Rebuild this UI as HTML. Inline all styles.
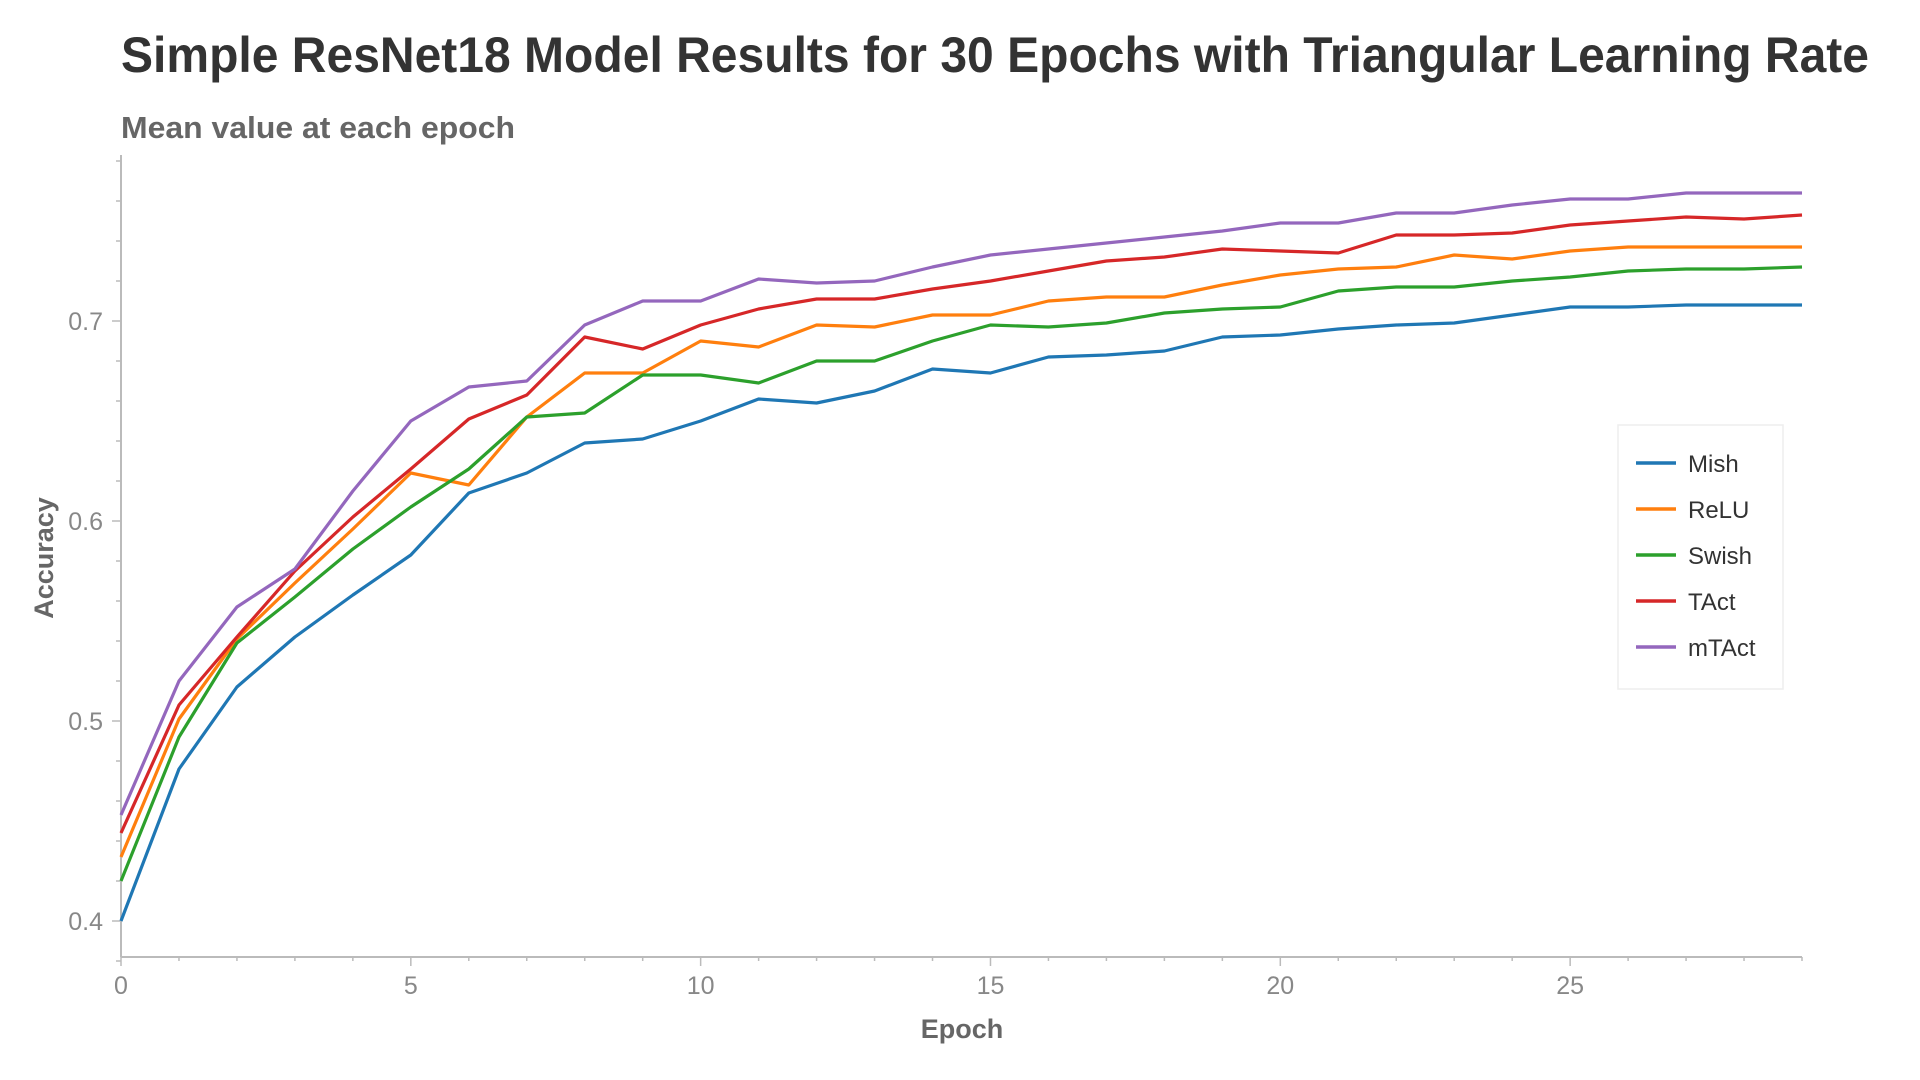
<!DOCTYPE html>
<html><head><meta charset="utf-8"><style>
html,body{margin:0;padding:0;background:#fff;width:1920px;height:1080px;overflow:hidden;font-family:"Liberation Sans",sans-serif}
</style></head><body>
<svg id="chart" width="1920" height="1080" viewBox="0 0 1920 1080" xmlns="http://www.w3.org/2000/svg" font-family="Liberation Sans, sans-serif">
<text x="121" y="72" font-size="50" font-weight="bold" fill="#333" textLength="1748" lengthAdjust="spacingAndGlyphs">Simple ResNet18 Model Results for 30 Epochs with Triangular Learning Rate</text>
<text x="121" y="138" font-size="31" font-weight="bold" fill="#666" textLength="394" lengthAdjust="spacingAndGlyphs">Mean value at each epoch</text>
<g id="axes"></g>
<g id="series"></g>
<g id="legend"></g>
</svg>
<script>
const epochs = Array.from({length:30},(_, i)=>i);
const seriesNames = ["Mish","ReLU","Swish","TAct","mTAct"];
const seriesColors = ["#1f77b4","#ff7f0e","#2ca02c","#d62728","#9467bd"];
const mish = [0.400,0.476,0.517,0.542,0.563,0.583,0.614,0.624,0.639,0.641,0.650,0.661,0.659,0.665,0.676,0.674,0.682,0.683,0.685,0.692,0.693,0.696,0.698,0.699,0.703,0.707,0.707,0.708,0.708,0.708];
const relu = [0.432,0.501,0.541,0.569,0.596,0.624,0.618,0.652,0.674,0.674,0.690,0.687,0.698,0.697,0.703,0.703,0.710,0.712,0.712,0.718,0.723,0.726,0.727,0.733,0.731,0.735,0.737,0.737,0.737,0.737];
const swish = [0.420,0.492,0.539,0.562,0.586,0.607,0.626,0.652,0.654,0.673,0.673,0.669,0.680,0.680,0.690,0.698,0.697,0.699,0.704,0.706,0.707,0.715,0.717,0.717,0.720,0.722,0.725,0.726,0.726,0.727];
const tact = [0.444,0.508,0.542,0.575,0.602,0.626,0.651,0.663,0.692,0.686,0.698,0.706,0.711,0.711,0.716,0.720,0.725,0.730,0.732,0.736,0.735,0.734,0.743,0.743,0.744,0.748,0.750,0.752,0.751,0.753];
const mtact = [0.453,0.520,0.557,0.576,0.615,0.650,0.667,0.670,0.698,0.710,0.710,0.721,0.719,0.720,0.727,0.733,0.736,0.739,0.742,0.745,0.749,0.749,0.754,0.754,0.758,0.761,0.761,0.764,0.764,0.764];
const yTicks = [0.4,0.5,0.6,0.7];
const yTickLabels = ["0.4","0.5","0.6","0.7"];
const xTicks = [0,5,10,15,20,25];
const xTickLabels = ["0","5","10","15","20","25"];

const NS="http://www.w3.org/2000/svg";
const X0=121, XSTEP=(1802-121)/29;
function xs(e){return X0+e*XSTEP;}
function ys(v){return 921-(v-0.4)*2000;}
function mk(tag,attrs,parent){const el=document.createElementNS(NS,tag);for(const k in attrs)el.setAttribute(k,attrs[k]);parent.appendChild(el);return el;}
const axes=document.getElementById('axes');
let yl=mk('line',{x1:121,y1:155,x2:121,y2:957,stroke:'#bbb','stroke-width':2},axes);


let xl=mk('line',{x1:121,y1:957,x2:1802,y2:957,stroke:'#bbb','stroke-width':2},axes);


for(let v=0.38;v<=0.781;v+=0.02){const y=ys(v);const major=yTicks.some(t=>Math.abs(t-v)<1e-6);
 let t=mk('line',{x1:major?112:116,y1:y,x2:121,y2:y,stroke:'#bbb','stroke-width':1.5},axes);
 
 }
yTicks.forEach((v,i)=>{let t=mk('text',{x:103,y:ys(v)+9,'font-size':25,fill:'#888','text-anchor':'end'},axes);t.textContent=yTickLabels[i];
 
 });
epochs.forEach(e=>{const major=xTicks.includes(e);
 let t=mk('line',{x1:xs(e),y1:957,x2:xs(e),y2:major?966:961,stroke:'#bbb','stroke-width':1.5},axes);
 
 });
xTicks.forEach((e,i)=>{let t=mk('text',{x:xs(e),y:994,'font-size':25,fill:'#888','text-anchor':'middle'},axes);t.textContent=xTickLabels[i];
 
 });
let xt=mk('text',{x:962,y:1038,'font-size':27,'font-weight':'bold',fill:'#666','text-anchor':'middle'},axes);xt.textContent='Epoch';


let yt=mk('text',{x:0,y:0,'font-size':27,'font-weight':'bold',fill:'#666','text-anchor':'middle',transform:'translate(53,558) rotate(-90)'},axes);yt.textContent='Accuracy';



const allSeries=[mish,relu,swish,tact,mtact];
const sg=document.getElementById('series');
allSeries.forEach((vals,i)=>{
 const d=vals.map((v,j)=>(j?'L':'M')+xs(epochs[j]).toFixed(1)+','+ys(v).toFixed(1)).join(' ');
 let p=mk('path',{d:d,fill:'none',stroke:seriesColors[i],'stroke-width':3.2,'stroke-linejoin':'round'},sg);
 
 
});
const lg=document.getElementById('legend');
let box=mk('rect',{x:1618,y:425,width:165,height:264,fill:'#fff',stroke:'#eee','stroke-width':1.5},lg);


seriesNames.forEach((n,i)=>{const y=463+i*46;
 const g=mk('g',{},lg);
 
 
 mk('line',{x1:1636,y1:y,x2:1676,y2:y,stroke:seriesColors[i],'stroke-width':3.5},g);
 const t=mk('text',{x:1688,y:y+9,'font-size':24,fill:'#333'},g);t.textContent=n;});
</script>
</body></html>
